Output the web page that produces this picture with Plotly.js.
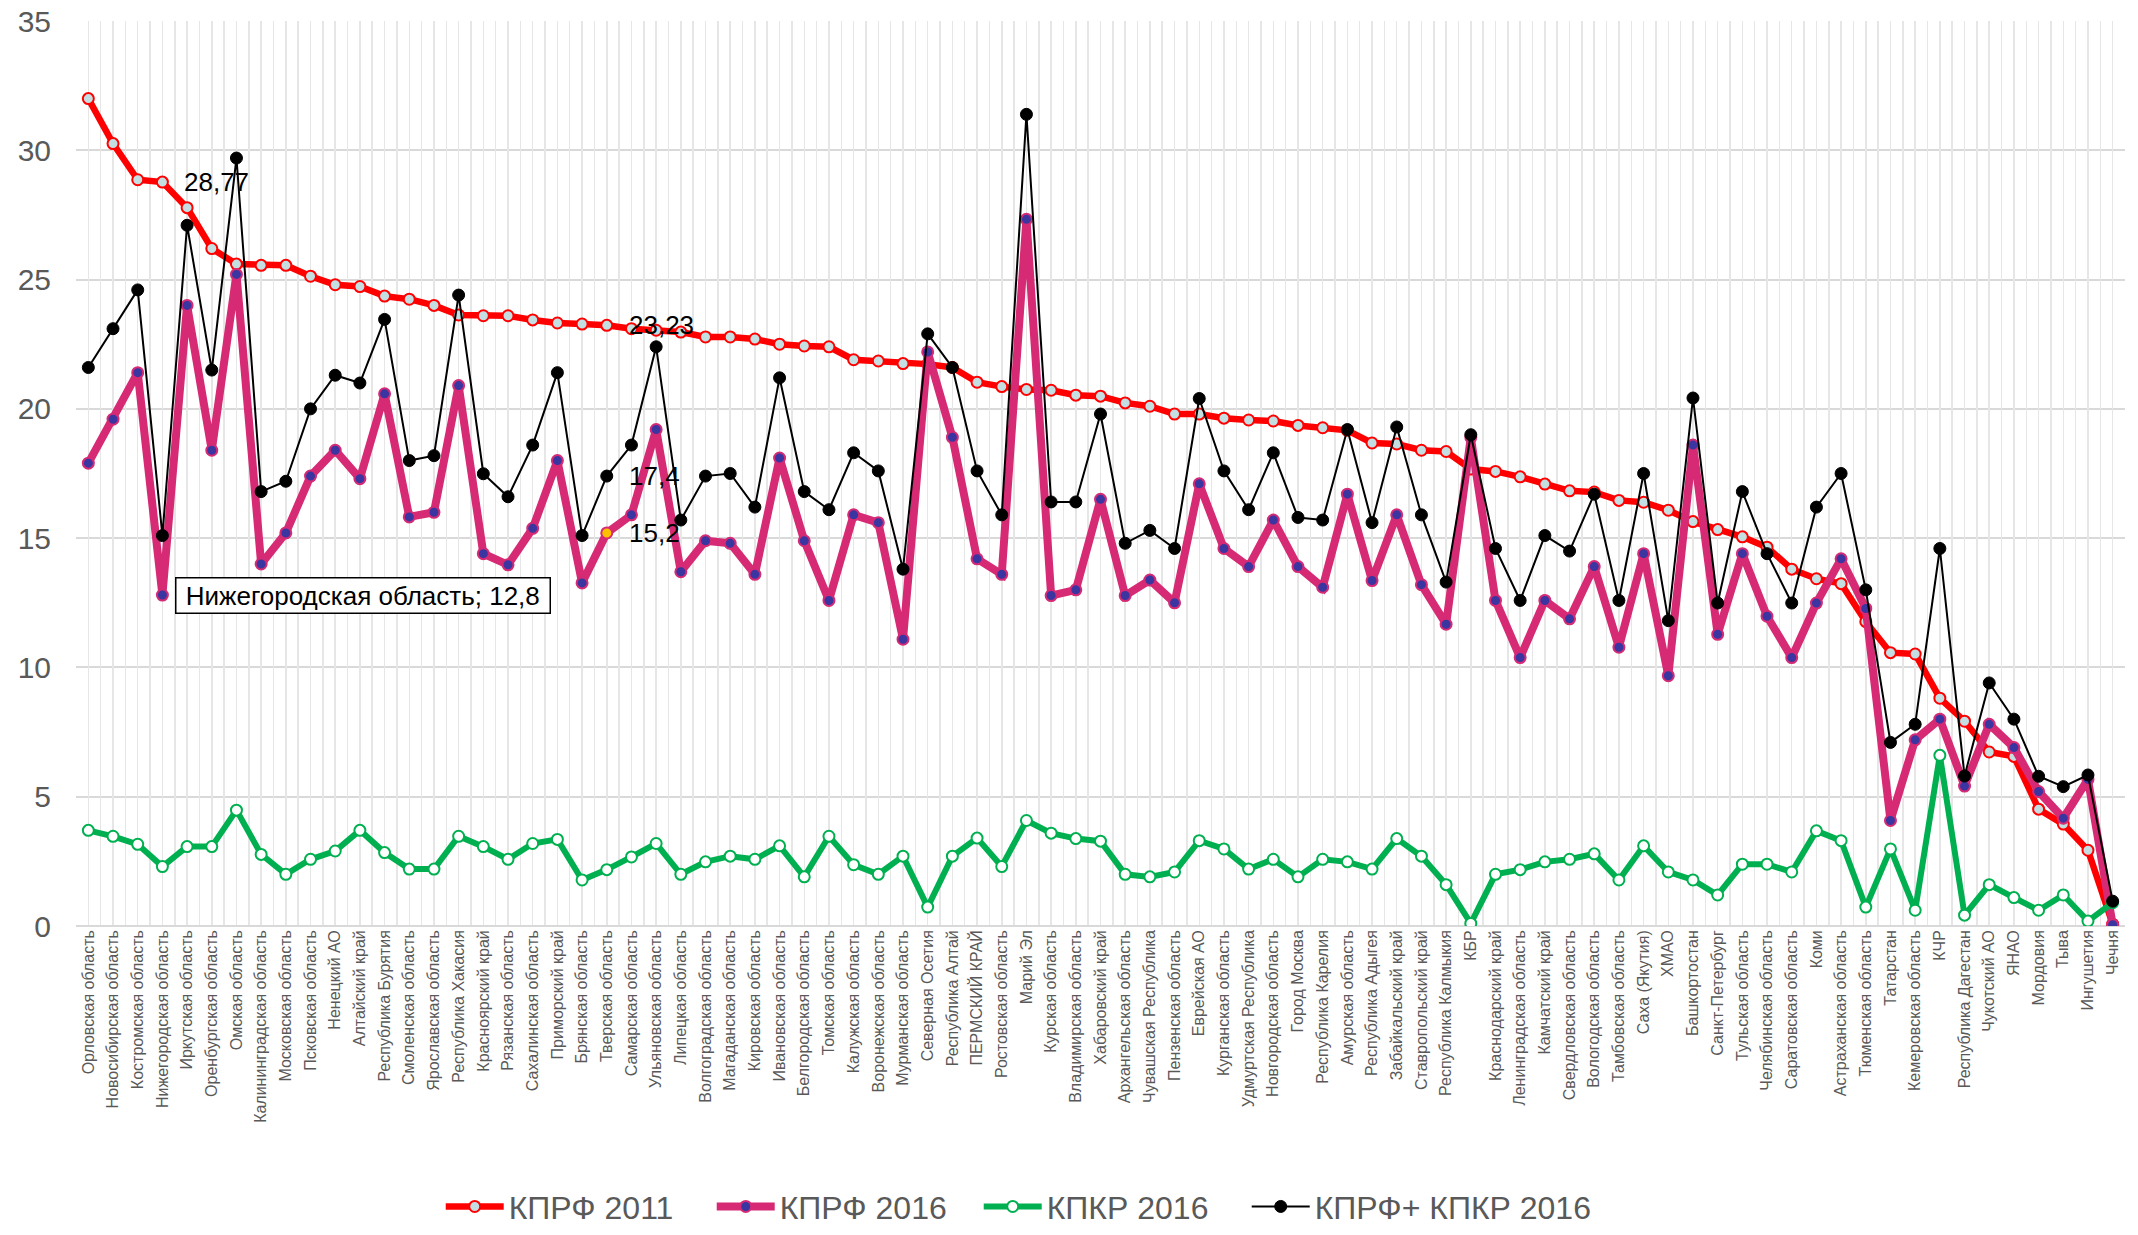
<!DOCTYPE html>
<html><head><meta charset="utf-8">
<script src="https://cdn.plot.ly/plotly-3.0.1.min.js"></script>
<style>html,body{margin:0;padding:0;background:#fff}</style>
</head><body><div id="chart" style="width:2138px;height:1235px"></div>
<script>
const regions = [
 'Орловская область','Новосибирская область','Костромская область','Нижегородская область','Иркутская область',
 'Оренбургская область','Омская область','Калининградская область','Московская область','Псковская область',
 'Ненецкий АО','Алтайский край','Республика Бурятия','Смоленская область','Ярославская область',
 'Республика Хакасия','Красноярский край','Рязанская область','Сахалинская область','Приморский край',
 'Брянская область','Тверская область','Самарская область','Ульяновская область','Липецкая область',
 'Волгоградская область','Магаданская область','Кировская область','Ивановская область','Белгородская область',
 'Томская область','Калужская область','Воронежская область','Мурманская область','Северная Осетия',
 'Республика Алтай','ПЕРМСКИЙ КРАЙ','Ростовская область','Марий Эл','Курская область',
 'Владимирская область','Хабаровский край','Архангельская область','Чувашская Республика','Пензенская область',
 'Еврейская АО','Курганская область','Удмуртская Республика','Новгородская область','Город Москва',
 'Республика Карелия','Амурская область','Республика Адыгея','Забайкальский край','Ставропольский край',
 'Республика Калмыкия','КБР','Краснодарский край','Ленинградская область','Камчатский край',
 'Свердловская область','Вологодская область','Тамбовская область','Саха (Якутия)','ХМАО',
 'Башкортостан','Санкт-Петербург','Тульская область','Челябинская область','Саратовская область',
 'Коми','Астраханская область','Тюменская область','Татарстан','Кемеровская область',
 'КЧР','Республика Дагестан','Чукотский АО','ЯНАО','Мордовия',
 'Тыва','Ингушетия','Чечня'
];
const kprf2011 = [
 32.0, 30.26, 28.86, 28.77, 27.78, 26.2, 25.6, 25.55, 25.55, 25.13,
 24.8, 24.73, 24.36, 24.24, 24.0, 23.63, 23.6, 23.6, 23.44, 23.32,
 23.28, 23.23, 23.1, 23.04, 22.97, 22.78, 22.78, 22.7, 22.5, 22.43,
 22.4, 21.9, 21.85, 21.75, 21.73, 21.6, 21.03, 20.86, 20.75, 20.72,
 20.53, 20.49, 20.23, 20.1, 19.8, 19.8, 19.64, 19.57, 19.53, 19.36,
 19.27, 19.17, 18.68, 18.64, 18.4, 18.35, 17.67, 17.58, 17.37, 17.09,
 16.83, 16.78, 16.46, 16.39, 16.08, 15.64, 15.33, 15.05, 14.65, 13.8,
 13.43, 13.24, 11.77, 10.57, 10.52, 8.81, 7.92, 6.73, 6.56, 4.52,
 3.94, 2.93, 0.07
];
const kprf2016 = [
 17.9, 19.6, 21.4, 12.8, 24.0, 18.4, 25.2, 14.0, 15.2, 17.4,
 18.4, 17.3, 20.58, 15.82, 16.0, 20.9, 14.4, 13.97, 15.38, 18.0,
 13.27, 15.2, 15.9, 19.2, 13.7, 14.9, 14.8, 13.6, 18.1, 14.9,
 12.59, 15.9, 15.6, 11.09, 22.2, 18.9, 14.2, 13.6, 27.33, 12.78,
 13.0, 16.5, 12.78, 13.38, 12.5, 17.1, 14.6, 13.9, 15.7, 13.9,
 13.1, 16.7, 13.36, 15.9, 13.2, 11.67, 18.9, 12.59, 10.38, 12.59,
 11.88, 13.9, 10.78, 14.4, 9.68, 18.6, 11.28, 14.4, 11.98, 10.38,
 12.49, 14.2, 12.28, 4.08, 7.2, 8.0, 5.41, 7.8, 6.9, 5.2,
 4.17, 5.67, 0.05
];
const kpkr2016 = [
 3.7, 3.47, 3.16, 2.3, 3.07, 3.07, 4.48, 2.77, 2.0, 2.58,
 2.9, 3.7, 2.84, 2.2, 2.2, 3.47, 3.07, 2.58, 3.19, 3.35,
 1.78, 2.18, 2.67, 3.19, 2.0, 2.48, 2.7, 2.58, 3.1, 1.9,
 3.47, 2.37, 2.0, 2.7, 0.73, 2.7, 3.4, 2.3, 4.08, 3.59,
 3.38, 3.28, 2.0, 1.9, 2.09, 3.3, 2.98, 2.2, 2.58, 1.9,
 2.58, 2.48, 2.2, 3.38, 2.7, 1.6, 0.1, 2.0, 2.18, 2.48,
 2.58, 2.79, 1.78, 3.1, 2.09, 1.78, 1.2, 2.39, 2.39, 2.09,
 3.68, 3.3, 0.73, 2.98, 0.61, 6.6, 0.42, 1.6, 1.1, 0.61,
 1.2, 0.19, 0.9
];
const kprfPlusKpkr2016 = [
 21.6, 23.1, 24.6, 15.1, 27.1, 21.5, 29.7, 16.8, 17.2, 20.0,
 21.3, 21.0, 23.46, 18.0, 18.19, 24.4, 17.49, 16.6, 18.6, 21.4,
 15.1, 17.4, 18.6, 22.4, 15.7, 17.4, 17.5, 16.2, 21.2, 16.8,
 16.1, 18.3, 17.6, 13.8, 22.9, 21.6, 17.6, 15.9, 31.39, 16.4,
 16.4, 19.8, 14.8, 15.3, 14.6, 20.4, 17.6, 16.1, 18.3, 15.8,
 15.7, 19.2, 15.6, 19.3, 15.9, 13.3, 19.0, 14.6, 12.59, 15.1,
 14.5, 16.7, 12.59, 17.5, 11.81, 20.42, 12.49, 16.8, 14.4, 12.49,
 16.2, 17.5, 13.0, 7.1, 7.8, 14.6, 5.8, 9.4, 8.0, 5.79,
 5.39, 5.84, 0.96
];
const seriesNames = ['КПРФ 2011', 'КПРФ 2016', 'КПКР 2016', 'КПРФ+ КПКР 2016'];
const highlightRegion = 'Тверская область';
const boxedRegion = 'Нижегородская область';

const FONT = 'Liberation Sans, Arial, sans-serif';
const fmt = v => String(v).replace('.', ',');

const pinkFill = regions.map(r => r === highlightRegion ? '#FFC000' : '#3A35A0');

const traces = [
 {x: [], y: [], xaxis: 'x2', yaxis: 'y', type: 'scatter', mode: 'markers', showlegend: false, hoverinfo: 'skip'},
 {x: regions, y: kprf2011, name: seriesNames[0], type: 'scatter', mode: 'lines+markers',
  legendwidth: 198,
  line: {color: '#FF0000', width: 6.5},
  marker: {symbol: 'circle', size: 11, color: '#C3DFE2', line: {color: '#FF0000', width: 2}}},
 {x: regions, y: kprf2016, name: seriesNames[1], type: 'scatter', mode: 'lines+markers',
  legendwidth: 194,
  line: {color: '#D62A74', width: 8},
  marker: {symbol: 'circle', size: 11, color: pinkFill, line: {color: '#D62A74', width: 2}}},
 {x: regions, y: kpkr2016, name: seriesNames[2], type: 'scatter', mode: 'lines+markers',
  legendwidth: 195,
  line: {color: '#00B050', width: 6},
  marker: {symbol: 'circle', size: 11, color: '#FFFFFF', line: {color: '#00B050', width: 2}}},
 {x: regions, y: kprfPlusKpkr2016, name: seriesNames[3], type: 'scatter', mode: 'lines+markers',
  legendwidth: 320,
  line: {color: '#000000', width: 2},
  marker: {symbol: 'circle', size: 12, color: '#000000', line: {color: '#000000', width: 1}}}
];

function idx(r) { return regions.indexOf(r); }
const labelFont = {family: FONT, size: 26, color: '#000000'};
const annotations = [
 {series: kprf2011, region: boxedRegion},
 {series: kprf2011, region: highlightRegion},
 {series: kprfPlusKpkr2016, region: highlightRegion},
 {series: kprf2016, region: highlightRegion}
].map(c => ({
 x: c.region, y: c.series[idx(c.region)], xref: 'x', yref: 'y',
 text: fmt(c.series[idx(c.region)]), showarrow: false,
 xanchor: 'left', yanchor: 'middle', xshift: 20, font: labelFont
}));
annotations.push({
 x: boxedRegion, y: kprf2016[idx(boxedRegion)], xref: 'x', yref: 'y',
 text: '\u00A0' + boxedRegion + '; ' + fmt(kprf2016[idx(boxedRegion)]) + '\u00A0',
 showarrow: false, xanchor: 'left', yanchor: 'middle', xshift: 13,
 bordercolor: '#000000', borderwidth: 1.5, borderpad: 2, bgcolor: '#FFFFFF', font: labelFont
});

const layout = {
 width: 2138, height: 1235,
 margin: {l: 76, r: 13, t: 21, b: 309, autoexpand: false},
 paper_bgcolor: '#FFFFFF', plot_bgcolor: '#FFFFFF',
 font: {family: FONT, color: '#595959'},
 showlegend: true,
 legend: {orientation: 'h', x: 0.178, xanchor: 'left', y: -0.3405, yanchor: 'bottom',
  font: {family: FONT, size: 32, color: '#595959'}, itemwidth: 58,
  traceorder: 'normal'},
 xaxis: {type: 'category', range: [-0.5, regions.length - 0.5], showgrid: false, zeroline: false,
  showline: false, ticks: '', tickangle: -90, tickfont: {family: FONT, size: 16, color: '#595959'},
  automargin: false},
 xaxis2: {overlaying: 'x', anchor: 'y', range: [-0.5, regions.length - 0.5], tick0: -0.5, dtick: 0.5,
  autorange: false, showgrid: true, gridcolor: '#E6E6E6', gridwidth: 1.5, showticklabels: false,
  ticks: '', zeroline: false, showline: false, automargin: false},
 yaxis: {range: [0, 35], dtick: 5, tick0: 0, showgrid: true, gridcolor: '#D9D9D9', gridwidth: 2,
  zeroline: true, zerolinecolor: '#D9D9D9', zerolinewidth: 2, showline: false, ticks: '',
  tickfont: {family: FONT, size: 30, color: '#595959'}, ticklabelstandoff: 24, automargin: false},
 annotations: annotations
};

Plotly.newPlot('chart', traces, layout, {displayModeBar: false, staticPlot: true});
</script>
</body></html>
